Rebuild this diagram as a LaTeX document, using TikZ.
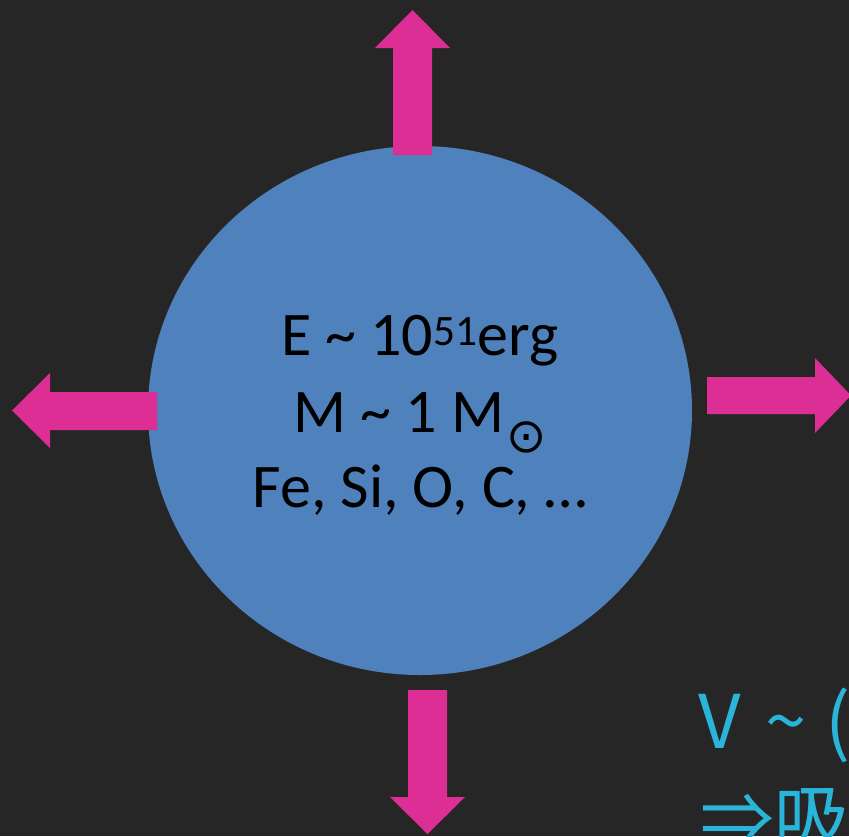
\documentclass[tikz,border=0pt]{standalone}
\usepackage{fontspec}
\setmainfont{Carlito}
\newfontfamily\jpfont{Noto Sans CJK JP}
\newfontfamily\symbfont{DejaVu Sans}
\usepackage{xcolor}
\usepackage{tikz}

\definecolor{bgdark}{HTML}{262626}
\definecolor{shellblue}{HTML}{4F81BD}
\definecolor{flowpink}{HTML}{DC2E94}
\definecolor{notecyan}{HTML}{2BB4D9}

\newcommand{\sunsub}{\hspace{2pt}\raisebox{-20pt}{\symbfont\fontsize{48}{48}\selectfont ⊙}}

\begin{document}
\begin{tikzpicture}[x=1pt, y=-1pt,
    shelltext/.style={anchor=base, inner sep=0pt, font=\fontsize{62}{74}\selectfont},
    notetext/.style={anchor=base west, inner sep=0pt, text=notecyan, font=\jpfont\fontsize{74}{90}\selectfont}]
    % Background
    \fill[bgdark] (0,0) rectangle (849,836);
    \useasboundingbox (0,0) rectangle (849,836);

    % Shell
    \fill[shellblue] (420,410.5) ellipse [x radius=272, y radius=264.5];

    % Arrows
    \fill[flowpink] (393,155) -- (393,48) -- (375,48) -- (412.5,10) -- (450,48) -- (432,48) -- (432,155) -- cycle;
    \fill[flowpink] (157,392) -- (50,392) -- (50,373) -- (12,410.5) -- (50,448) -- (50,430) -- (157,430) -- cycle;
    \fill[flowpink] (707,377) -- (815,377) -- (815,358) -- (851,395.5) -- (815,433) -- (815,414) -- (707,414) -- cycle;
    \fill[flowpink] (408,690) -- (408,797) -- (390,797) -- (427.5,834) -- (465,797) -- (447,797) -- (447,690) -- cycle;

    % Labels
    \node[shelltext] (energy) at (420,355) {E \textasciitilde{} 10\textsuperscript{51}erg};
    \node[shelltext] (mass) at (420,432) {M \textasciitilde{} 1 M\sunsub};
    \node[shelltext] (elements) at (420,507) {Fe, Si, O, C, \dots};

    % Note
    \node[notetext] (speed) at (698,748) {V\hspace{8pt} \textasciitilde\hspace{3pt} (};
    \node[notetext] (absorb) at (700,846) {⇒吸};
\end{tikzpicture}
\end{document}
